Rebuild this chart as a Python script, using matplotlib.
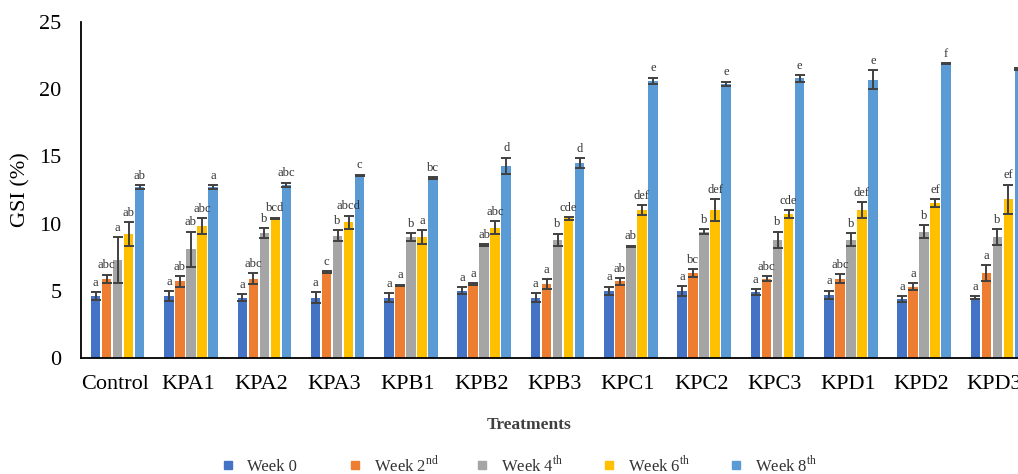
import numpy as np
import matplotlib
matplotlib.use("Agg")
from matplotlib import pyplot as plt
from matplotlib import transforms

plt.rcParams['font.family'] = ['Liberation Serif', 'DejaVu Serif']
plt.rcParams['mathtext.fontset'] = 'custom'
plt.rcParams['mathtext.rm'] = 'Liberation Serif'

treatments = ["Control", "KPA1", "KPA2", "KPA3", "KPB1", "KPB2", "KPB3",
              "KPC1", "KPC2", "KPC3", "KPD1", "KPD2", "KPD3"]
weeks = ["Week 0", "Week 2$^{\\mathrm{nd}}$", "Week 4$^{\\mathrm{th}}$",
         "Week 6$^{\\mathrm{th}}$", "Week 8$^{\\mathrm{th}}$"]

# GSI means per week and treatment
week0 = [4.6, 4.6, 4.5, 4.5, 4.5, 5.0, 4.5, 5.0, 5.0, 4.9, 4.7, 4.4, 4.5]
week2 = [5.9, 5.7, 5.9, 6.4, 5.4, 5.5, 5.5, 5.7, 6.3, 5.9, 5.9, 5.3, 6.3]
week4 = [7.3, 8.1, 9.3, 9.1, 9.0, 8.4, 8.8, 8.3, 9.4, 8.8, 8.8, 9.4, 9.0]
week6 = [9.2, 9.8, 10.4, 10.1, 9.0, 9.7, 10.4, 11.0, 11.0, 10.7, 11.0, 11.5, 11.8]
week8 = [12.7, 12.7, 12.9, 13.6, 13.4, 14.3, 14.5, 20.6, 20.4, 20.8, 20.7, 21.9, 21.5]

# error bars
err0 = [0.3, 0.35, 0.25, 0.4, 0.3, 0.25, 0.3, 0.3, 0.35, 0.2, 0.3, 0.2, 0.1]
err2 = [0.3, 0.4, 0.4, 0.05, 0.05, 0.05, 0.35, 0.25, 0.3, 0.2, 0.35, 0.25, 0.6]
err4 = [1.7, 1.3, 0.35, 0.4, 0.3, 0.05, 0.45, 0.05, 0.2, 0.6, 0.5, 0.5, 0.6]
err6 = [0.9, 0.6, 0.05, 0.5, 0.5, 0.5, 0.1, 0.35, 0.8, 0.3, 0.6, 0.3, 1.1]
err8 = [0.15, 0.15, 0.15, 0.05, 0.05, 0.6, 0.35, 0.25, 0.15, 0.25, 0.7, 0.05, 0.05]

# significance letters
let0 = ["a"] * 13
let2 = ["abc", "ab", "abc", "c", "a", "a", "a", "ab", "bc", "abc", "abc", "a", "a"]
let4 = ["a", "ab", "b", "b", "b", "ab", "b", "ab", "b", "b", "b", "b", "b"]
let6 = ["ab", "abc", "bcd", "abcd", "a", "abc", "cde", "def", "def", "cde", "def", "ef", "ef"]
let8 = ["ab", "a", "abc", "c", "bc", "d", "d", "e", "e", "e", "e", "f", "f"]

colors = ["#4472C4", "#ED7D31", "#A5A5A5", "#FFC000", "#5B9BD5"]

values = [week0, week2, week4, week6, week8]
errors = [err0, err2, err4, err6, err8]
letters = [let0, let2, let4, let6, let8]

W, H = 1018, 474
fig = plt.figure(figsize=(W / 100, H / 100), dpi=100)
ax = fig.add_axes([81 / W, 116 / H, 1 - 81 / W, 336 / H])

x = np.arange(len(treatments))
step = 0.15
width = 0.13
for i in range(5):
    pos = x + (i - 2) * step
    ax.bar(pos, values[i], width, color=colors[i], zorder=2)
    ax.errorbar(pos, values[i], yerr=errors[i], fmt="none", ecolor="#404040",
                elinewidth=1.4, capsize=3.5, capthick=1.4, zorder=3)
    for p, v, e, t in zip(pos, values[i], errors[i], letters[i]):
        ax.text(p, v + e + 0.25, t, ha="center", va="bottom", fontsize=9, color="#333333")

ax.set_xlim(-0.5, 12.28)
ax.set_ylim(0, 25)
ax.set_yticks([0, 5, 10, 15, 20, 25])
ax.set_xticks(x)
ax.set_xticklabels(treatments)
ax.tick_params(axis="both", length=0, labelsize=16)
ax.tick_params(axis="y", pad=14)
ax.tick_params(axis="x", pad=12)
# category labels sit a little left of the group centres
shift = transforms.ScaledTranslation(-3 / 100, 0, fig.dpi_scale_trans)
for lab in ax.get_xticklabels():
    lab.set_transform(lab.get_transform() + shift)

ax.spines["top"].set_visible(False)
ax.spines["right"].set_visible(False)
ax.spines["left"].set_linewidth(1.3)
ax.spines["bottom"].set_linewidth(1.3)

ax.set_ylabel("GSI (%)", fontsize=16, labelpad=6)
fig.text(529 / W, 1 - 425 / H, "Treatments", ha="center", va="center",
         fontsize=12.5, fontweight="bold", color="#404040")

# legend with evenly spaced entries
for i, (lab, c) in enumerate(zip(weeks, colors)):
    x0 = (228 + 127 * i) / W
    fig.add_artist(plt.Line2D([x0], [1 - 465 / H], marker="s", markersize=6, color=c,
                              linestyle="none", transform=fig.transFigure))
    fig.text(x0 + 19 / W, 1 - 471 / H, lab, ha="left", va="baseline",
             fontsize=12, color="#333333")

fig.savefig("out.png", dpi=100)
